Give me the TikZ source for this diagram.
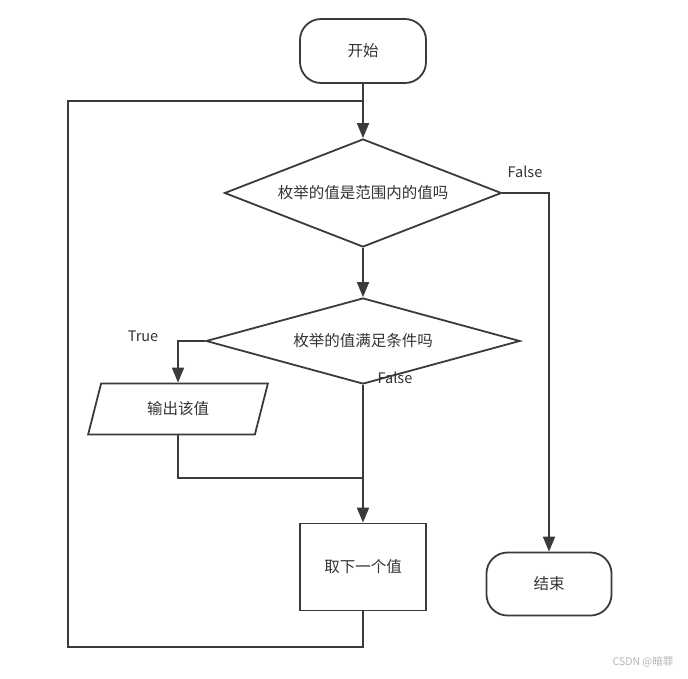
\documentclass[tikz,border=0pt]{standalone}
\usepackage{fontspec}
\setmainfont{Noto Sans CJK SC}
\usetikzlibrary{arrows.meta, shapes.geometric}

\definecolor{linegray}{HTML}{3A3A3A}
\definecolor{textgray}{HTML}{333333}
\definecolor{markgray}{HTML}{B4B4B4}

\tikzset{
  base/.style={draw=linegray, line width=1.8pt, text=textgray,
    font=\fontsize{15.5}{18}\selectfont, inner sep=0pt},
  terminal/.style={base, rectangle, rounded corners=21pt,
    minimum width=126pt, minimum height=64pt},
  decision/.style={base, diamond, aspect=2.5},
  io/.style={base, trapezium, trapezium left angle=70, trapezium right angle=110,
    trapezium stretches=true, minimum width=181pt, minimum height=51pt},
  process/.style={base, rectangle, minimum width=126pt, minimum height=87pt},
  link/.style={draw=linegray, line width=1.8pt},
  arr/.style={link, -{Triangle[length=15pt,width=12pt]}},
  tag/.style={text=textgray, font=\fontsize{14.5}{17}\selectfont}
}

\begin{document}
\begin{tikzpicture}[x=1pt,y=-1pt]
\useasboundingbox (0,0) rectangle (688,678);
% Nodes
\node[terminal] (start) at (363,51) {开始};
\node[decision, minimum width=277pt, minimum height=108pt] (range) at (363,193) {枚举的值是范围内的值吗};
\node[decision, minimum width=314pt, minimum height=86pt] (check) at (363,341) {枚举的值满足条件吗};
\node[io] (print) at (178,409) {输出该值};
\node[process] (next) at (363,567) {取下一个值};
\node[terminal, minimum width=125pt, minimum height=63pt] (stop) at (549,584) {结束};
\coordinate (merge) at (363,478);
\coordinate (back) at (363,101);
\coordinate (corner) at (68,647);
% Main flow
\draw[arr] (start) -- (range);
\draw[arr] (range) -- (check);
\draw[arr] (check) -- (next);
% True branch
\draw[arr] (check.west) -| (print.north);
\draw[link] (print.south) |- (merge);
% Exit
\draw[arr] (range.east) -| (stop.north);
% Loop back
\draw[link] (next.south) |- (corner) |- (back);
% Labels
\node[tag] (true) at (143,336) {True};
\node[tag] (false1) at (525,172) {False};
\node[tag] (false2) at (395,378) {False};
\node[text=markgray, font=\fontsize{10.5}{12}\selectfont] (mark) at (643,662) {CSDN @暗罪};
\end{tikzpicture}
\end{document}
